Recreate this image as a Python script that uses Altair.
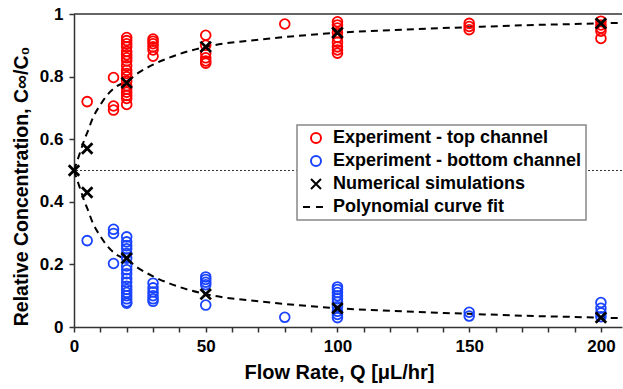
import altair as alt
import pandas as pd

# ---- data ----
top_q = [5, 15, 15, 15] + [20] * 19 + [30] * 6 + [50] * 6 + [80] + [100] * 9 + [150] * 3 + [200] * 5
top_c = [0.72, 0.797, 0.706, 0.693,
         0.925, 0.915, 0.905, 0.895, 0.88, 0.87, 0.86, 0.85, 0.835, 0.82, 0.81, 0.80, 0.785, 0.77, 0.76, 0.75, 0.74, 0.73, 0.711,
         0.92, 0.913, 0.905, 0.895, 0.885, 0.865,
         0.932, 0.90, 0.875, 0.86, 0.85, 0.843,
         0.968,
         0.975, 0.965, 0.955, 0.94, 0.925, 0.91, 0.895, 0.885, 0.875,
         0.970, 0.96, 0.95,
         0.977, 0.965, 0.955, 0.945, 0.922]

bot_q = [5, 15, 15, 15] + [20] * 18 + [30] * 6 + [50] * 5 + [80] + [100] * 10 + [150] * 2 + [200] * 4
bot_c = [0.276, 0.312, 0.299, 0.203,
         0.288, 0.272, 0.26, 0.25, 0.235, 0.22, 0.195, 0.183, 0.17, 0.155, 0.143, 0.13, 0.12, 0.11, 0.10, 0.09, 0.08, 0.076,
         0.14, 0.125, 0.112, 0.10, 0.09, 0.082,
         0.16, 0.152, 0.143, 0.135, 0.07,
         0.031,
         0.128, 0.12, 0.11, 0.10, 0.09, 0.08, 0.065, 0.05, 0.04, 0.03,
         0.047, 0.035,
         0.078, 0.06, 0.045, 0.033]

sim_q = [0, 5, 5, 20, 20, 50, 50, 100, 100, 200, 200]
sim_c = [0.5, 0.57, 0.43, 0.78, 0.22, 0.895, 0.105, 0.94, 0.06, 0.97, 0.03]

fit_q = [0, 1, 2, 3, 4, 5, 7, 10, 13, 16, 20, 25, 30, 40, 50, 70, 85, 100, 125, 150, 175, 200, 208]
fit_top = [0.50, 0.525, 0.55, 0.575, 0.60, 0.62, 0.665, 0.71, 0.745, 0.768, 0.785, 0.815, 0.838, 0.872,
           0.895, 0.918, 0.93, 0.94, 0.95, 0.958, 0.965, 0.97, 0.972]
fit_bot = [0.50, 0.475, 0.45, 0.425, 0.40, 0.38, 0.335, 0.29, 0.255, 0.232, 0.215, 0.185, 0.162, 0.128,
           0.105, 0.082, 0.07, 0.06, 0.05, 0.042, 0.035, 0.03, 0.028]

x_ticks = [0, 10, 20, 30, 40, 50, 60, 70, 80, 90, 100, 110, 120, 130, 140, 150, 160, 170, 180, 190, 200]
y_ticks = [0, 0.05, 0.1, 0.15, 0.2, 0.25, 0.3, 0.35, 0.4, 0.45, 0.5, 0.55, 0.6, 0.65, 0.7, 0.75, 0.8, 0.85, 0.9, 0.95, 1.0]

series = ["Experiment - top channel", "Experiment - bottom channel",
          "Numerical simulations", "Polynomial curve fit"]
colors = ["#ff0000", "#1a44ff", "#000000", "#000000"]
X_PATH = "M-1,-1L1,1M-1,1L1,-1"
DASH_PATH = "M-2.6,0L-1.2,0M0,0L1.4,0"
shapes = ["circle", "circle", X_PATH, DASH_PATH]

FONT = "Liberation Sans"

exp_df = pd.DataFrame({
    "Q": top_q + bot_q,
    "C": top_c + bot_c,
    "series": [series[0]] * len(top_q) + [series[1]] * len(bot_q),
})
sim_df = pd.DataFrame({"Q": sim_q, "C": sim_c, "series": series[2]})
fit_df = pd.DataFrame({
    "Q": fit_q + fit_q,
    "C": fit_top + fit_bot,
    "branch": ["top"] * len(fit_q) + ["bottom"] * len(fit_q),
    "series": series[3],
})

xscale = alt.Scale(domain=[0, 208], nice=False, zero=False)
yscale = alt.Scale(domain=[0, 1], nice=False)
color_scale = alt.Scale(domain=series, range=colors)
shape_scale = alt.Scale(domain=series, range=shapes)

legend = alt.Legend(
    title=None, orient="none", legendX=223, legendY=111,
    fillColor="white", strokeColor="#888888",
    padding=4, rowPadding=5, symbolSize=100, symbolStrokeWidth=2,
    symbolOpacity=1, symbolOffset=6, labelOffset=8,
    labelFont=FONT, labelFontSize=18, labelFontWeight="bold", labelColor="black",
    labelLimit=400,
)

x_enc = alt.X("Q:Q", scale=xscale, axis=alt.Axis(
    values=x_ticks, labelExpr="datum.value % 50 == 0 ? datum.label : ''",
    labelFlush=False,
    title="Flow Rate, Q [μL/hr]", titleX=265, titlePadding=8,
))
y_enc = alt.Y("C:Q", scale=yscale, axis=alt.Axis(
    values=y_ticks, labelFlush=False,
    labelExpr="abs(datum.value*5 - round(datum.value*5)) < 0.001 ? '' + round(datum.value*10)/10 : ''",
    title="Relative Concentration, C∞/C₀", titlePadding=8, titleY=172,
))

half_line = alt.Chart(pd.DataFrame({"C": [0.5]})).mark_rule(
    color="#333333", strokeWidth=1, strokeDash=[2, 2]
).encode(y=alt.Y("C:Q", scale=yscale))

top_line = alt.Chart(pd.DataFrame({"C": [1.0]})).mark_rule(
    color="#333333", strokeWidth=1.5
).encode(y=alt.Y("C:Q", scale=yscale))

fit = alt.Chart(fit_df).mark_line(
    strokeDash=[7, 5], strokeWidth=2, interpolate="monotone", color="#222222"
).encode(
    x=x_enc, y=y_enc, detail="branch:N",
    color=alt.Color("series:N", scale=color_scale, legend=legend),
)

exp = alt.Chart(exp_df).mark_point(filled=False, size=95, strokeWidth=1.8, opacity=1).encode(
    x=x_enc, y=y_enc,
    color=alt.Color("series:N", scale=color_scale, legend=legend),
    shape=alt.Shape("series:N", scale=shape_scale, legend=legend),
)

sim = alt.Chart(sim_df).mark_point(filled=False, size=110, strokeWidth=2.8, opacity=1).encode(
    x=x_enc, y=y_enc,
    color=alt.Color("series:N", scale=color_scale, legend=legend),
    shape=alt.Shape("series:N", scale=shape_scale, legend=legend),
)

chart = alt.layer(half_line, top_line, fit, exp, sim).properties(
    width=548, height=313,
    autosize=alt.AutoSizeParams(type="none"),
    padding={"left": 74, "top": 14, "right": 1, "bottom": 62},
).configure_view(stroke=None).configure_axis(
    grid=False,
    domainColor="#333333", domainWidth=1.5,
    tickColor="#333333", tickWidth=1.5, tickSize=5,
    labelFont=FONT, labelFontSize=17, labelFontWeight="bold", labelColor="black",
    labelPadding=6,
    titleFont=FONT, titleFontSize=20, titleFontWeight="bold", titleColor="black",
).configure_axisY(titleFontSize=19.5).configure_legend(strokeWidth=1.5)

chart.save("out.html", embed_options={"renderer": "svg", "actions": False})
